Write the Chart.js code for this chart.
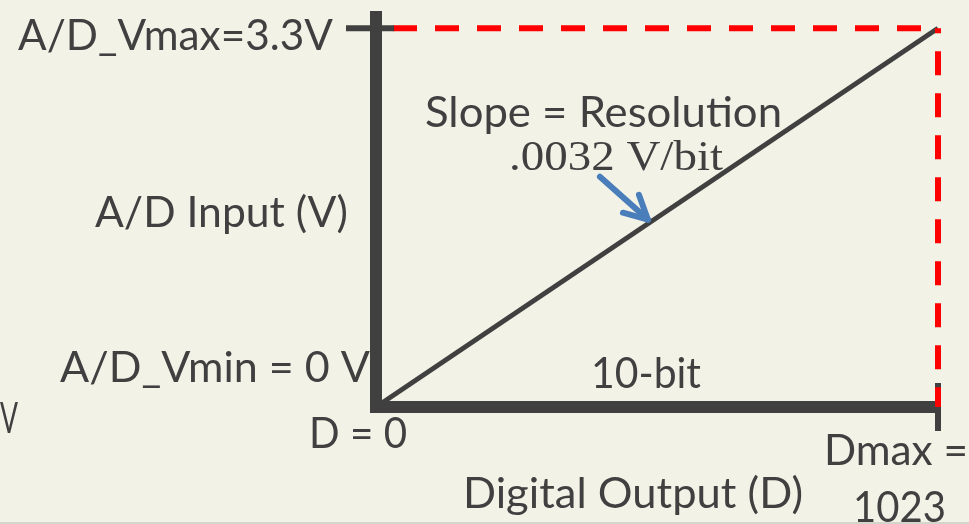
<!DOCTYPE html>
<html>
<head>
<meta charset="utf-8">
<script src="https://cdn.jsdelivr.net/npm/chart.js@4.4.0/dist/chart.umd.min.js"></script>
<style>
  html, body { margin: 0; padding: 0; background: #f3f2e7; }
  #wrap { width: 969px; height: 524px; position: relative; }
</style>
</head>
<body>
<div id="wrap"><canvas id="adcChart"></canvas></div>
<script>
// 10-bit A/D converter transfer function, 0 .. 3.3 V
const codes = [0, 1023];      // digital output D
const volts = [0, 3.3];       // A/D input (V)
const vAxisTop = 3.45;        // the V axis is drawn a little past Vmax
const arrowCode = 495;        // code where the "resolution" arrow hits the line

(function () {
    const dark = '#404040';
    const red = '#ff0000';
    const blue = '#4a7ebb';

    const pts = codes.map((d, i) => ({ x: d, y: volts[i] }));
    const dMax = codes[codes.length - 1];
    const vMax = volts[volts.length - 1];

    // text placed around the plot (left, baseline, ink width)
    const notes = [
        { t: 'A/D_Vmax=3.3V', x: 18, y: 50, w: 315 },
        { t: 'Slope = Resolution', x: 425, y: 127, w: 357 },
        { t: '.0032 V/bit', x: 509, y: 170, w: 214, serif: true },
        { t: 'A/D Input (V)', x: 95, y: 227, w: 253 },
        { t: 'A/D_Vmin = 0 V', x: 60, y: 382, w: 310 },
        { t: 'V', x: 0, y: 433, w: 18 },
        { t: '10-bit', x: 591, y: 388, w: 110 },
        { t: 'D = 0', x: 309, y: 448, w: 98 },
        { t: 'Dmax =', x: 824, y: 465, w: 144 },
        { t: 'Digital Output (D)', x: 463, y: 508, w: 340 },
        { t: '1023', x: 853, y: 522, w: 93 }
    ];

    function line(ctx, x1, y1, x2, y2, w, c, cap) {
        ctx.save();
        ctx.strokeStyle = c;
        ctx.lineWidth = w;
        ctx.lineCap = cap || 'butt';
        ctx.beginPath();
        ctx.moveTo(x1, y1);
        ctx.lineTo(x2, y2);
        ctx.stroke();
        ctx.restore();
    }

    const decor = {
        id: 'decor',
        beforeDatasetsDraw(chart) {
            const { ctx, scales: { x, y } } = chart;
            // tick at Dmax on the D axis (red dash is drawn over it)
            const px = x.getPixelForValue(dMax), py = y.getPixelForValue(0);
            line(ctx, px, py - 24, px, py + 24, 6, dark);
        },
        afterDatasetsDraw(chart) {
            const { ctx, scales: { x, y } } = chart;
            // tick at Vmax on the V axis
            const ty = y.getPixelForValue(vMax), tx = x.getPixelForValue(0);
            line(ctx, tx - 30, ty, tx + 18, ty, 6, dark);

            // arrow pointing at the transfer line
            const ax = x.getPixelForValue(arrowCode);
            const ay = y.getPixelForValue(arrowCode * vMax / dMax) - 4;
            line(ctx, ax - 48, ay - 43, ax - 2, ay - 2, 6, blue, 'round');
            line(ctx, ax, ay, ax - 25, ay - 7, 6, blue, 'round');
            line(ctx, ax, ay, ax - 9, ay - 25, 6, blue, 'round');

            // labels
            ctx.save();
            ctx.fillStyle = dark;
            ctx.textBaseline = 'alphabetic';
            ctx.textAlign = 'left';
            notes.forEach(n => {
                ctx.font = n.serif ? '43px "Liberation Serif", serif' : '42px Lato, sans-serif';
                const m = ctx.measureText(n.t).width;
                ctx.save();
                ctx.translate(n.x, n.y);
                ctx.scale(n.w / m, 1);
                ctx.fillText(n.t, 0, 0);
                ctx.restore();
            });
            ctx.restore();

            // thin rule along the bottom edge
            ctx.save();
            ctx.fillStyle = '#d6d5cc';
            ctx.fillRect(0, chart.height - 2, chart.width, 2);
            ctx.restore();
        }
    };

    new Chart(document.getElementById('adcChart'), {
        type: 'line',
        data: {
            datasets: [
                {
                    // Vmax guide
                    data: [{ x: codes[0], y: vMax }, { x: dMax, y: vMax }],
                    borderColor: red,
                    borderWidth: 6,
                    borderDash: [24, 18],
                    borderDashOffset: 25
                },
                {
                    // Dmax guide
                    data: [{ x: dMax, y: vMax }, { x: dMax, y: volts[0] }],
                    borderColor: red,
                    borderWidth: 6,
                    borderDash: [24, 18],
                    borderDashOffset: 19
                },
                {
                    // transfer function
                    data: pts,
                    borderColor: dark,
                    borderWidth: 5
                },
                {
                    // axes
                    data: [{ x: codes[0], y: vAxisTop }, { x: codes[0], y: volts[0] }, { x: dMax, y: volts[0] }],
                    borderColor: dark,
                    borderWidth: 12,
                    borderJoinStyle: 'miter'
                }
            ]
        },
        options: {
            responsive: true,
            maintainAspectRatio: false,
            animation: false,
            events: [],
            clip: false,
            layout: { padding: { left: 376, right: 31, top: 11, bottom: 117 } },
            elements: {
                point: { radius: 0 },
                line: { tension: 0, fill: false }
            },
            plugins: {
                legend: { display: false },
                tooltip: { enabled: false }
            },
            scales: {
                x: { type: 'linear', min: 0, max: dMax, display: false },
                y: { type: 'linear', min: 0, max: vAxisTop, display: false }
            }
        },
        plugins: [decor]
    });
})();
</script>
</body>
</html>
